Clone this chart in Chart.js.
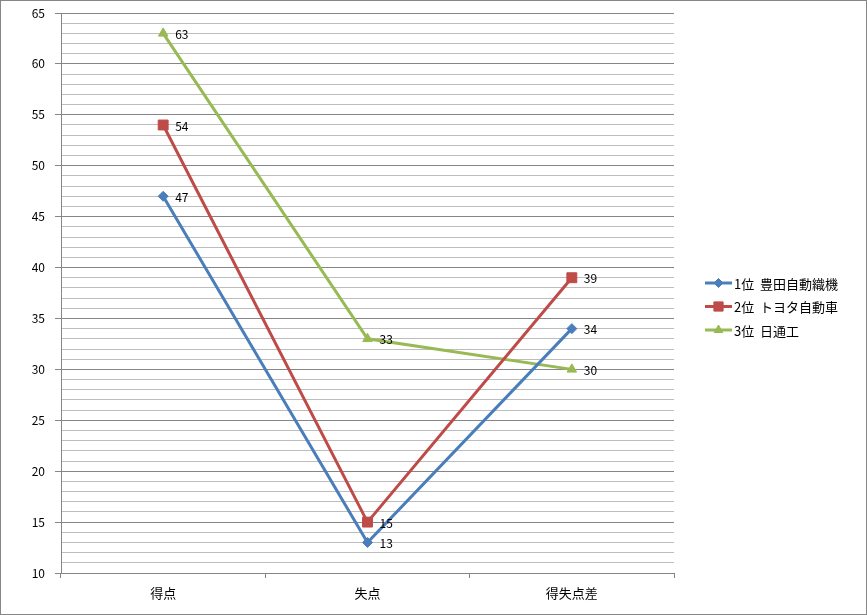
<!DOCTYPE html>
<html>
<head>
<meta charset="utf-8">
<script src="https://cdn.jsdelivr.net/npm/chart.js@4"></script>
<style>
  body { margin: 0; background: #fff; }
  #wrap { width: 867px; height: 615px; }
</style>
</head>
<body>
<div id="wrap"><canvas id="rank_chart"></canvas></div>
<script>
const categories = ['得点', '失点', '得失点差'];
const seriesNames = ['1位  豊田自動織機', '2位  トヨタ自動車', '3位  日通工'];
const toyotaShokki = [47, 13, 34];
const toyotaJidosha = [54, 15, 39];
const nittsuko = [63, 33, 30];
const yTicks = [10, 15, 20, 25, 30, 35, 40, 45, 50, 55, 60, 65];

const FONT = '"Noto Sans CJK JP", "Noto Sans", sans-serif';
const colors = ['#4a7ebb', '#be4b48', '#98b954'];
const markers = ['rectRot', 'rect', 'triangle'];
const markerSize = [5, 7, 5.5];

// 値ラベル + 凡例 + 外枠
const extras = {
  id: 'extras',
  afterDatasetsDraw(chart) {
    const c = chart.ctx;
    c.save();
    c.font = '12px ' + FONT;
    c.fillStyle = '#000';
    c.textBaseline = 'middle';
    chart.data.datasets.forEach((ds, i) => {
      chart.getDatasetMeta(i).data.forEach((pt, j) => {
        c.fillText(String(ds.data[j]), pt.x + 12, pt.y + 1);
      });
    });

    // legend
    const lx = 705, ly = 283, gap = 23.5;
    c.font = '13px ' + FONT;
    chart.data.datasets.forEach((ds, i) => {
      const y = ly + i * gap;
      c.strokeStyle = ds.borderColor;
      c.lineWidth = 3;
      c.beginPath();
      c.moveTo(lx, y);
      c.lineTo(lx + 27, y);
      c.stroke();
      c.fillStyle = ds.backgroundColor;
      c.lineWidth = 1;
      Chart.helpers.drawPoint(c, {
        pointStyle: ds.pointStyle,
        radius: ds.pointRadius - 0.5,
        borderWidth: 1
      }, lx + 13.5, y);
      c.fillStyle = '#000';
      c.fillText(ds.label, lx + 29, y + 1);
    });

    c.strokeStyle = '#868686';
    c.lineWidth = 1;
    c.strokeRect(0.5, 0.5, chart.width - 1, chart.height - 1);
    c.restore();
  }
};

const ctx = document.getElementById('rank_chart');
const allSeries = [toyotaShokki, toyotaJidosha, nittsuko];

new Chart(ctx, {
  type: 'line',
  data: {
    labels: categories,
    datasets: allSeries.map((d, i) => ({
      label: seriesNames[i],
      data: d,
      borderColor: colors[i],
      backgroundColor: colors[i],
      pointBackgroundColor: colors[i],
      pointBorderColor: colors[i],
      borderWidth: 3,
      pointStyle: markers[i],
      pointRadius: markerSize[i],
      pointBorderWidth: 1,
      tension: 0
    }))
  },
  options: {
    responsive: true,
    maintainAspectRatio: false,
    animation: false,
    devicePixelRatio: 1,
    layout: { padding: { left: 0, right: 193, top: 13, bottom: 0 } },
    plugins: {
      legend: { display: false },
      tooltip: { enabled: false }
    },
    scales: {
      x: {
        offset: true,
        grid: {
          offset: true,
          drawOnChartArea: false,
          drawTicks: true,
          tickLength: 5,
          color: '#868686'
        },
        border: { color: '#868686' },
        ticks: { color: '#000', font: { family: FONT, size: 13 }, padding: 7 },
        afterFit(scale) { scale.height = 42; }
      },
      y: {
        min: yTicks[0],
        max: yTicks[yTicks.length - 1],
        afterBuildTicks(scale) {
          const t = [];
          for (let v = yTicks[0]; v <= yTicks[yTicks.length - 1]; v++) t.push({ value: v });
          scale.ticks = t;
        },
        grid: {
          color: (c) => (c.tick && c.tick.value % 5 === 0 ? '#868686' : '#bdbdbd'),
          tickColor: (c) => (c.tick && c.tick.value % 5 === 0 ? '#868686' : 'rgba(0,0,0,0)'),
          tickLength: 6
        },
        border: { color: '#868686' },
        ticks: {
          autoSkip: false,
          color: '#000',
          font: { family: FONT, size: 12 },
          padding: 10,
          callback: (v) => (yTicks.includes(v) ? String(v) : '')
        },
        afterFit(scale) {
          scale.width = 61;
          scale.paddingTop = 0;
          scale.paddingBottom = 0;
        }
      }
    }
  },
  plugins: [extras]
});
</script>
</body>
</html>
